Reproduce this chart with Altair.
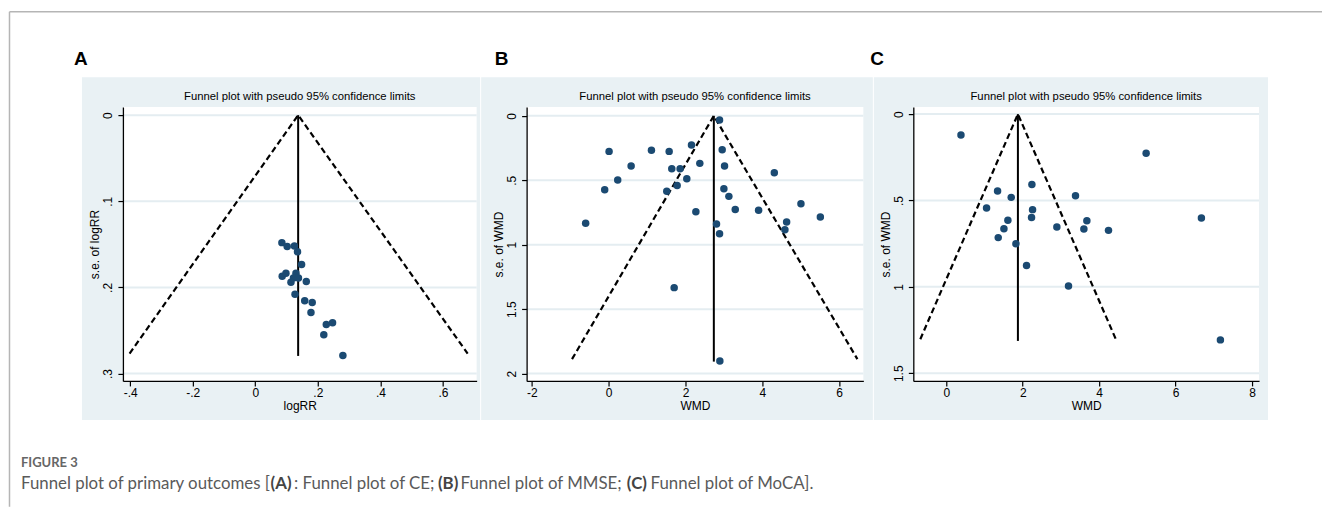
import altair as alt
import pandas as pd

# ---------------- data ----------------
# Panel A (CE): logRR vs s.e. of logRR
A_x = [0.085, 0.102, 0.125, 0.135, 0.148, 0.086, 0.098, 0.130, 0.122, 0.114,
       0.138, 0.163, 0.127, 0.158, 0.182, 0.178, 0.227, 0.247, 0.219, 0.280]
A_se = [0.148, 0.1526, 0.152, 0.1587, 0.1735, 0.187, 0.1835, 0.1835, 0.189, 0.194,
        0.189, 0.193, 0.208, 0.2155, 0.2175, 0.229, 0.243, 0.241, 0.255, 0.279]
A_funnel_x = [-0.402, 0.137, 0.679]
A_funnel_se = [0.2768, 0.0, 0.2768]
A_center = 0.137
A_center_bottom = 0.2795

# Panel B (MMSE): WMD vs s.e. of WMD
B_x = [2.887, 0.010, 1.113, 1.575, 2.156, 2.956, 0.584, 1.643, 1.860, 2.373,
       3.017, 4.313, 0.235, 2.034, -0.104, 1.512, 1.783, 3.000, 3.130, 2.270,
       3.296, 3.904, 5.007, 5.512, -0.600, 2.808, 2.887, 4.634, 4.589, 1.705, 2.895]
B_se = [0.033, 0.276, 0.268, 0.276, 0.227, 0.263, 0.390, 0.411, 0.411, 0.369,
        0.390, 0.442, 0.498, 0.488, 0.573, 0.586, 0.540, 0.566, 0.625, 0.744,
        0.726, 0.733, 0.682, 0.785, 0.834, 0.840, 0.915, 0.824, 0.884, 1.333, 1.902]
B_funnel_x = [-0.955, 2.738, 6.477]
B_funnel_se = [1.888, 0.0, 1.888]
B_center = 2.738
B_center_bottom = 1.907

# Panel C (MoCA): WMD vs s.e. of WMD
C_x = [0.384, 5.229, 2.240, 1.342, 1.699, 3.381, 1.054, 2.257, 2.231, 1.612,
       3.678, 6.675, 1.508, 2.893, 3.600, 4.244, 1.359, 1.822, 2.100, 3.198, 7.172]
C_se = [0.121, 0.227, 0.407, 0.445, 0.482, 0.472, 0.544, 0.553, 0.598, 0.615,
        0.617, 0.601, 0.663, 0.654, 0.665, 0.673, 0.715, 0.750, 0.877, 0.995, 1.307]
C_funnel_x = [-0.680, 1.874, 4.436]
C_funnel_se = [1.303, 0.0, 1.303]
C_center = 1.874
C_center_bottom = 1.313

A_xticks = [-0.4, -0.2, 0, 0.2, 0.4, 0.6]
A_yticks = [0, 0.1, 0.2, 0.3]
B_xticks = [-2, 0, 2, 4, 6]
B_yticks = [0, 0.5, 1, 1.5, 2]
C_xticks = [0, 2, 4, 6, 8]
C_yticks = [0, 0.5, 1, 1.5]

PLOT_TITLE = "Funnel plot with pseudo 95% confidence limits"
CAPTION_LABEL = "FIGURE 3"
CAPTION_PARTS = [
    ("Funnel plot of primary outcomes [", False),
    ("(A)", True),
    (": Funnel plot of CE; ", False),
    ("(B)", True),
    (" Funnel plot of MMSE; ", False),
    ("(C)", True),
    (" Funnel plot of MoCA].", False),
]

# ---------------- styling ----------------
NAVY = "#1b4a72"
BLUE = "#e9f1f4"
GRID = "#e4edf1"
SFONT = "Liberation Sans"
CFONT = "Lato"
H = 274
LABEL_EXPR = "replace('' + datum.value, '0.', '.')"

# approximate Lato advance widths (em) used only to chain caption segments
LATO_W = {" ": 0.193, "(": 0.31, ")": 0.31, "[": 0.27, "]": 0.30, ":": 0.24, ";": 0.24,
          ".": 0.24, "A": 0.69, "B": 0.65, "C": 0.71, "E": 0.60, "F": 0.54, "M": 0.86,
          "S": 0.52, "a": 0.49, "c": 0.46, "d": 0.56, "e": 0.52, "f": 0.33, "i": 0.24,
          "l": 0.24, "m": 0.83, "n": 0.56, "o": 0.56, "p": 0.55, "r": 0.38, "s": 0.42,
          "t": 0.35, "u": 0.56, "y": 0.50}


def text_width(s, size, bold):
    k = 1.06 if bold else 1.027
    return sum(LATO_W.get(ch, 0.55) for ch in s) * size * k


one = pd.DataFrame({"k": [0]})


def axes(xdom, ydom, xticks, yticks, xtitle, ytitle):
    common = dict(labelExpr=LABEL_EXPR, grid=False, domainColor="black", domainWidth=1.3,
                  tickColor="black", tickWidth=1.2, tickSize=5, labelFont=SFONT,
                  labelFontSize=12, labelColor="black", titleFont=SFONT, titleFontSize=12,
                  titleFontWeight="normal", titleColor="black", zindex=1,
                  labelFlush=False, labelOverlap=False)
    ax = alt.Axis(values=xticks, title=xtitle, labelPadding=2, titlePadding=2, **common)
    ay = alt.Axis(values=yticks, title=ytitle, labelAngle=-90, labelAlign="center",
                  labelBaseline="bottom", labelPadding=3, titlePadding=0, **common)
    sx = alt.Scale(domain=xdom, nice=False, zero=False)
    sy = alt.Scale(domain=ydom, reverse=True, nice=False, zero=False)

    def X(f):
        return alt.X(f"{f}:Q", scale=sx, axis=ax)

    def Y(f):
        return alt.Y(f"{f}:Q", scale=sy, axis=ay)

    return X, Y


def panel(px, pse, fx, fse, cx, cbot, xdom, ydom, xticks, yticks, xtitle, ytitle,
          w, bg, letter, letter_x):
    X, Y = axes(xdom, ydom, xticks, yticks, xtitle, ytitle)
    layers = []
    layers.append(alt.Chart(one).mark_rect(color=BLUE).encode(
        x=alt.value(bg[0]), x2=alt.value(bg[1]), y=alt.value(-30), y2=alt.value(313)))
    layers.append(alt.Chart(one).mark_rect(color="white").encode(
        x=alt.value(0), x2=alt.value(w), y=alt.value(0), y2=alt.value(H)))
    layers.append(alt.Chart(pd.DataFrame({"g": yticks})).mark_rule(
        color=GRID, strokeWidth=2).encode(y=Y("g"), x=alt.value(0), x2=alt.value(w)))
    layers.append(alt.Chart(pd.DataFrame({"x": fx, "se": fse})).mark_line(
        color="black", strokeWidth=2.2, strokeDash=[6, 3.5]).encode(x=X("x"), y=Y("se")))
    layers.append(alt.Chart(pd.DataFrame({"x": [cx], "se": [0.0], "se2": [cbot]})).mark_rule(
        color="black", strokeWidth=2).encode(x=X("x"), y=Y("se"), y2="se2:Q"))
    layers.append(alt.Chart(pd.DataFrame({"x": px, "se": pse})).mark_circle(
        color=NAVY, size=56, opacity=1).encode(x=X("x"), y=Y("se")))
    layers.append(alt.Chart(one).mark_text(
        text=PLOT_TITLE, font=SFONT, fontSize=11.3, color="black",
        align="center", baseline="middle").encode(x=alt.value(w / 2), y=alt.value(-10)))
    layers.append(alt.Chart(one).mark_text(
        text=letter, font=SFONT, fontSize=19, fontWeight="bold", color="black",
        align="left", baseline="middle").encode(x=alt.value(letter_x), y=alt.value(-48)))
    return layers


pA = panel(A_x, A_se, A_funnel_x, A_funnel_se, A_center, A_center_bottom,
           [-0.4233, 0.7077], [-0.0093, 0.3085], A_xticks, A_yticks,
           "logRR", "s.e. of logRR", 354, (-41, 357.5), "A", -49)
pB = panel(B_x, B_se, B_funnel_x, B_funnel_se, B_center, B_center_bottom,
           [-2.138, 6.632], [-0.0674, 2.0566], B_xticks, B_yticks,
           "WMD", "s.e. of WMD", 337, (-45.5, 346.5), "B", -32)
pC = panel(C_x, C_se, C_funnel_x, C_funnel_se, C_center, C_center_bottom,
           [-0.8627, 8.183], [-0.0405, 1.5445], C_xticks, C_yticks,
           "WMD", "s.e. of WMD", 346, (-39.5, 355), "C", -43)

# frame and caption (positioned relative to panel A)
FRAME = "#b5b5b5"
pA.append(alt.Chart(one).mark_rule(color=FRAME, strokeWidth=1.5).encode(
    x=alt.value(-113.5), x2=alt.value(1200), y=alt.value(-95.5)))
pA.append(alt.Chart(one).mark_rule(color=FRAME, strokeWidth=1.5).encode(
    x=alt.value(-113.5), y=alt.value(-95.5), y2=alt.value(400)))
CAP_X0 = -102
CAP_SIZE = 16.85
pA.append(alt.Chart(one).mark_text(
    text=CAPTION_LABEL, font=CFONT, fontSize=13, fontWeight="bold", color="#666666",
    align="left", baseline="middle").encode(x=alt.value(CAP_X0), y=alt.value(356)))
cx_pos = CAP_X0
for txt, bold in CAPTION_PARTS:
    pA.append(alt.Chart(one).mark_text(
        text=txt, font=CFONT, fontSize=CAP_SIZE, fontWeight="bold" if bold else "normal",
        color="#444444" if bold else "#5a5a5a", align="left", baseline="middle").encode(
        x=alt.value(cx_pos), y=alt.value(377)))
    cx_pos += text_width(txt, CAP_SIZE, bold)

chA = alt.layer(*pA).properties(width=354, height=H)
chB = alt.layer(*pB).properties(width=337, height=H)
chC = alt.layer(*pC).properties(width=346, height=H)

chart = alt.hconcat(chA, chB, chC, spacing=50, bounds="flush").properties(
    padding={"left": 0, "top": 2, "right": 0, "bottom": 0},
    background="white",
).configure_view(stroke=None)

chart.save("out.html", embed_options={"renderer": "svg", "actions": False})
